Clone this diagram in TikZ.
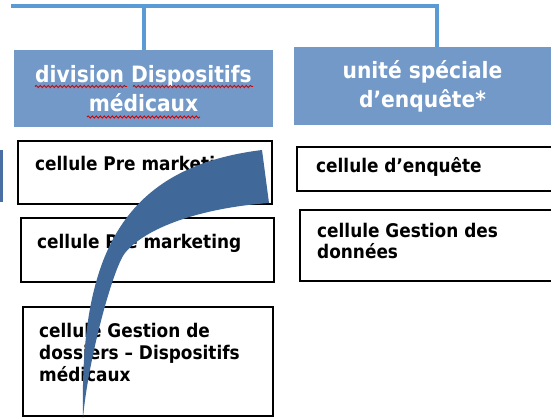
\documentclass[tikz,border=0pt]{standalone}
\usepackage{fontspec}
\setmainfont{DejaVu Sans Condensed}
\usetikzlibrary{decorations.pathmorphing}
\definecolor{linkblue}{HTML}{5B9BD5}
\definecolor{headfill}{HTML}{7299C8}
\definecolor{arrowblue}{HTML}{406899}
\definecolor{sliver}{HTML}{4A6FA5}
\begin{document}
\begin{tikzpicture}[x=1pt,y=-1pt,
  conn/.style={draw=linkblue,line width=4pt},
  header/.style={fill=headfill,draw=none,inner sep=0pt},
  headtext/.style={text=white,font=\fontsize{22.5}{29}\selectfont\bfseries,align=center,inner sep=0pt},
  cellbox/.style={draw=black,line width=2pt,fill=white,inner sep=0pt},
  celltext/.style={font=\fontsize{18.8}{21.5}\selectfont\bfseries,align=left,inner sep=0pt},
  spell/.style={draw=red!85!black,line width=0.9pt,decorate,decoration={snake,amplitude=1.1pt,segment length=4pt}}]
\useasboundingbox (0,0) rectangle (551,418);
\begin{scope}
\clip (0,0) rectangle (551,418);
\fill[sliver] (-5,150) rectangle (3,202);
% headers
\node[header,minimum width=259pt,minimum height=77pt] (lh) at (143.5,88.5) {};
\node[header,minimum width=257pt,minimum height=78pt] (rh) at (422.5,86) {};
\node[headtext] (lht) at (143.5,88.5) {division Dispositifs\\médicaux};
\node[headtext] (rht) at (422.5,86) {unité spéciale\\d’enquête*};
% connectors
\coordinate (cstart) at (11,6);
\coordinate (cend) at (437,6);
\draw[conn] (cstart) -- (cend) -- (437,0 |- rh.north);
\draw[conn] (lh.north |- cstart) -- (lh.north);
% spelling underlines
\draw[spell] (35,86.5) -- (127,86.5);
\draw[spell] (133,86.5) -- (253,86.5);
\draw[spell] (87,117) -- (200,117);
% cells
\node[cellbox,minimum width=254pt,minimum height=63pt] (c1) at (145,172.5) {};
\node[cellbox,minimum width=253pt,minimum height=64pt] (c2) at (147.5,250) {};
\node[cellbox,minimum width=250pt,minimum height=109pt] (c3) at (148,361.5) {};
\node[cellbox,minimum width=263pt,minimum height=44pt] (c4) at (428.5,169) {};
\node[cellbox,minimum width=260pt,minimum height=71pt] (c5) at (430,245.5) {};
\node[celltext,anchor=base west] (t1) at (35,170) {cellule Pre marketing};
\node[celltext,anchor=base west] (t2) at (37,248) {cellule Pre marketing};
\node[celltext,anchor=north west,font=\fontsize{18.8}{22}\selectfont\bfseries] (t3) at (39,323) {cellule Gestion de\\dossiers – Dispositifs\\médicaux};
\node[celltext,anchor=base west] (t4) at (316,172) {cellule d’enquête};
\node[celltext,anchor=north west,font=\fontsize{18.8}{21}\selectfont\bfseries] (t5) at (317,223) {cellule Gestion des\\données};
% curved arrow
\fill[arrowblue] (83,418) .. controls (80,265) and (115,168) .. (262,150) -- (269,203)
  .. controls (200,208) and (145,228) .. (125,253)
  .. controls (113,268) and (88,360) .. (83,418) -- cycle;
\end{scope}
\end{tikzpicture}
\end{document}
